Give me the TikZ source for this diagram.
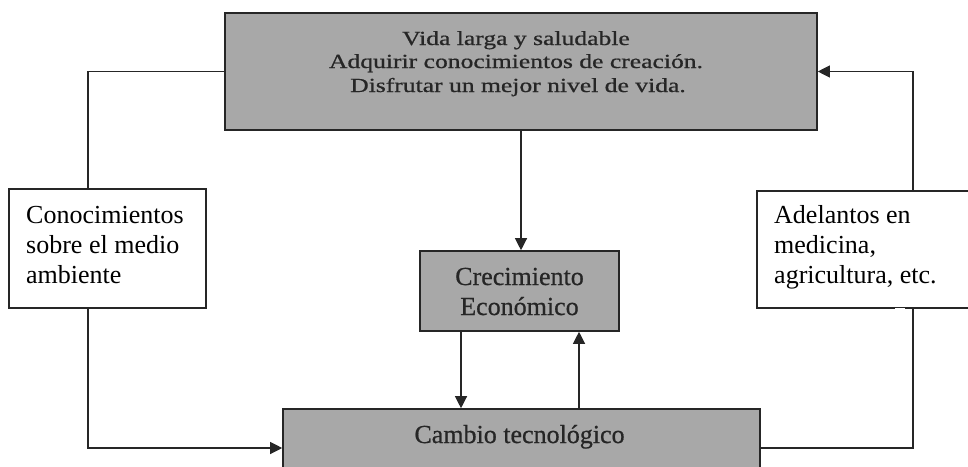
\documentclass[tikz,border=0pt]{standalone}
\usepackage{fontspec}
\usepackage{graphicx}
\setmainfont{Liberation Serif}
\newfontface\heavyface[FakeBold=0.7]{Liberation Serif}
\usetikzlibrary{arrows.meta}
\definecolor{boxgray}{RGB}{168,168,168}
\definecolor{inkgray}{RGB}{38,38,38}
\begin{document}
\begin{tikzpicture}[x=1pt,y=-1pt,
  graybox/.style={draw=black!85, line width=1.6pt, fill=boxgray, inner sep=0pt},
  whitebox/.style={draw=black!85, line width=1.4pt, fill=white, inner sep=0pt},
  boxtext/.style={anchor=base, inner sep=0pt, font=\fontsize{26}{30}\selectfont},
  graytext/.style={boxtext, text=inkgray, font=\heavyface\fontsize{26}{30}\selectfont},
  lefttext/.style={boxtext, anchor=base west},
  toptext/.style={anchor=base, inner sep=0pt, font=\heavyface\fontsize{20}{24}\selectfont, text=inkgray},
  conn/.style={line width=1.2pt, draw=black!85},
  arr/.style={conn, -{Triangle[length=12pt,width=12pt]}}]
\useasboundingbox (0,0) rectangle (968,466);
\clip (0,0) rectangle (968,466);
\fill[white] (0,0) rectangle (968,466);

% boxes
\node[graybox, minimum width=592pt, minimum height=117pt] (top) at (521,71.5) {};
\node[whitebox, minimum width=197pt, minimum height=119pt] (left) at (107.5,248.5) {};
\node[whitebox, minimum width=243pt, minimum height=117pt] (right) at (878.5,249.5) {};
\node[graybox, minimum width=199pt, minimum height=80pt] (mid) at (519.5,291) {};
\node[graybox, minimum width=477pt, minimum height=78pt] (bot) at (521.5,448) {};

% small gap in the bottom border of the right box
\draw[white, line width=2.2pt] ([xshift=16.5pt]right.south) -- ([xshift=26.5pt]right.south);

% texts
\node[toptext] (t1) at (516,45) {\scalebox{1.28}[1]{Vida larga y saludable}};
\node[toptext] (t2) at (516,68) {\scalebox{1.28}[1]{Adquirir conocimientos de creación.}};
\node[toptext] (t3) at (518,92) {\scalebox{1.28}[1]{Disfrutar un mejor nivel de vida.}};

\node[lefttext] (l1) at (26,223) {Conocimientos};
\node[lefttext] (l2) at (26,253) {sobre el medio};
\node[lefttext] (l3) at (26,283) {ambiente};

\node[lefttext] (r1) at (774,223) {Adelantos en};
\node[lefttext] (r2) at (774,253) {medicina,};
\node[lefttext] (r3) at (774,283) {agricultura, etc.};

\node[graytext] (m1) at (519.5,285) {Crecimiento};
\node[graytext] (m2) at (519.5,315) {Económico};

\node[graytext] (b1) at (519.5,443) {Cambio tecnológico};

% connectors
\draw[arr] (top.south) -- (top.south |- mid.north);
\draw[arr] ([xshift=-58.5pt]mid.south) -- ([xshift=-58.5pt]mid.south |- bot.north);
\draw[arr] ([xshift=59.5pt]mid.south |- bot.north) -- ([xshift=59.5pt]mid.south);
\draw[conn] (top.west) -| ([xshift=-19.5pt]left.north);
\draw[arr] ([xshift=-19.5pt]left.south) |- (bot.west);
\draw[conn] (bot.east) -| ([xshift=34.5pt]right.south);
\draw[arr] ([xshift=34.5pt]right.north) |- (top.east);
\end{tikzpicture}
\end{document}
